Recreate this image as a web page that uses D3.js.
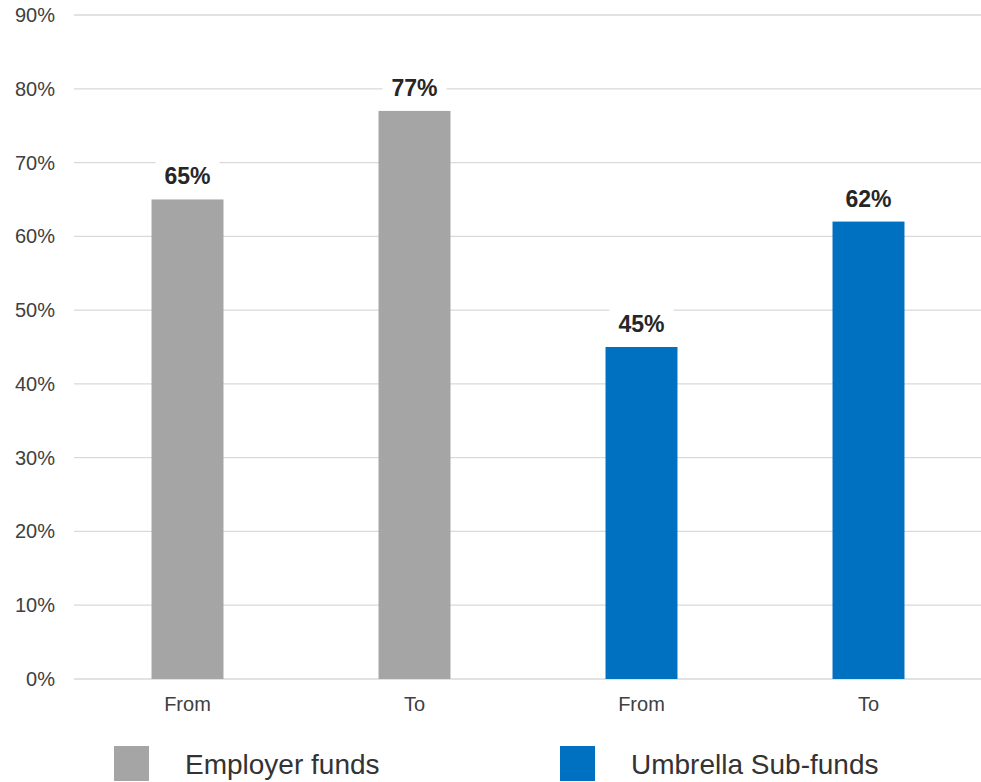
<!DOCTYPE html>
<html>
<head>
<meta charset="utf-8">
<script src="https://cdn.jsdelivr.net/npm/d3@7"></script>
<style>
  html, body { margin: 0; padding: 0; background: #fff; }
  svg { display: block; font-family: Arial, "Liberation Sans", sans-serif; }
</style>
</head>
<body>
<svg id="chart" width="981" height="782"></svg>
<script>
// Switching rates by fund type, from / to
const categories = ["From", "To", "From", "To"];
const values = [65, 77, 45, 62];
const seriesIndex = [0, 0, 1, 1];
const seriesNames = ["Employer funds", "Umbrella Sub-funds"];
const seriesColors = ["#a5a5a5", "#0070c0"];
const yTicks = [0, 10, 20, 30, 40, 50, 60, 70, 80, 90];

const svg = d3.select("#chart");
const plotLeft = 74, plotRight = 982, plotTop = 15, plotBottom = 679;

const x = d3.scaleBand().domain(d3.range(categories.length)).range([plotLeft, plotRight]).padding(0);
const barW = x.bandwidth() * 0.317;
const y = d3.scaleLinear().domain([0, 90]).range([plotBottom, plotTop]);

// gridlines
svg.append("g").selectAll("line").data(yTicks).join("line")
  .attr("x1", plotLeft).attr("x2", 981)
  .attr("y1", d => y(d)).attr("y2", d => y(d))
  .attr("stroke", "#d9d9d9").attr("stroke-width", 1.3);

// y tick labels
svg.append("g").selectAll("text").data(yTicks).join("text")
  .attr("x", 55).attr("y", d => y(d)).attr("dy", "0.35em")
  .attr("text-anchor", "end").attr("font-size", 20).attr("fill", "#404040")
  .text(d => d + "%");

// bars
svg.append("g").selectAll("rect").data(values).join("rect")
  .attr("x", (d, i) => x(i) + x.bandwidth() / 2 - barW / 2)
  .attr("width", barW)
  .attr("y", d => y(d))
  .attr("height", d => y(0) - y(d))
  .attr("fill", (d, i) => seriesColors[seriesIndex[i]]);

// value labels on white boxes
const lbl = svg.append("g").selectAll("g").data(values).join("g")
  .attr("transform", (d, i) => `translate(${x(i) + x.bandwidth() / 2},${y(d) - 15})`);
lbl.append("rect").attr("x", -32).attr("y", -23).attr("width", 64).attr("height", 30).attr("fill", "#fff");
lbl.append("text").attr("text-anchor", "middle").attr("font-size", 23).attr("font-weight", "bold")
  .attr("fill", "#262626").text(d => d + "%");

// category labels
svg.append("g").selectAll("text").data(categories).join("text")
  .attr("x", (d, i) => x(i) + x.bandwidth() / 2).attr("y", 704).attr("dy", "0.35em")
  .attr("text-anchor", "middle").attr("font-size", 20).attr("fill", "#404040")
  .text(d => d);

// legend
const legendX = [114, 560];
const leg = svg.append("g").selectAll("g").data(seriesNames).join("g")
  .attr("transform", (d, i) => `translate(${legendX[i]},746)`);
leg.append("rect").attr("width", 35).attr("height", 35).attr("fill", (d, i) => seriesColors[i]);
leg.append("text").attr("x", 71).attr("y", 18).attr("dy", "0.35em")
  .attr("font-size", 28).attr("fill", "#333").text(d => d);
</script>
</body>
</html>
